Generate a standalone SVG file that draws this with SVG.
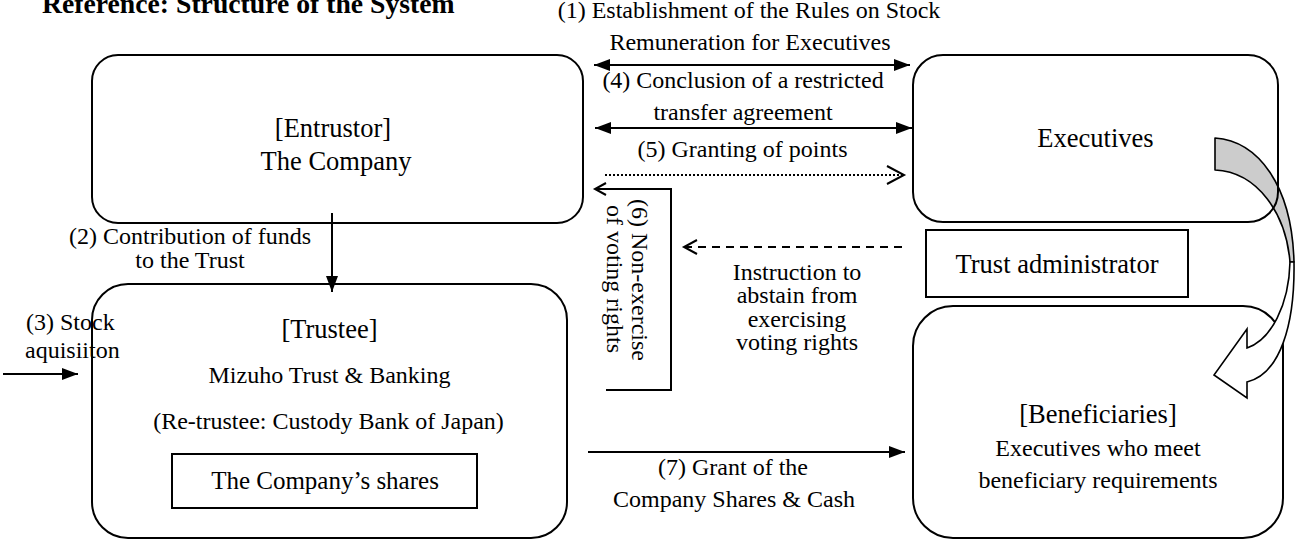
<svg xmlns="http://www.w3.org/2000/svg" width="1295" height="552" viewBox="0 0 1295 552">
<style>
text{font-family:"Liberation Serif","Times New Roman",serif;fill:#000}
.t{font-size:24px}
.h{font-size:26.5px}
.m{text-anchor:middle}
.box{fill:none;stroke:#000;stroke-width:2}
.ln{fill:none;stroke:#000;stroke-width:2}
.open{fill:none;stroke:#000;stroke-width:2}
</style>
<defs>
<marker id="tri" viewBox="0 0 16 12" refX="16" refY="6" markerWidth="16" markerHeight="12" markerUnits="userSpaceOnUse" orient="auto-start-reverse"><path d="M0,0 L16,6 L0,12 Z" fill="#000"/></marker>
</defs>
<rect width="1295" height="552" fill="#fff"/>
<text x="42" y="13" style="font-size:27.7px;font-weight:bold">Reference: Structure of the System</text>

<g id="connectors-back">
<path d="M1215,138 C1258,141 1292,185 1294,262 L1290,262 C1286,214 1258,172 1215,170 Z" fill="#cccccc" stroke="#000" stroke-width="1.6" stroke-linejoin="round"/>
</g>

<g id="entrustor">
<rect class="box" x="92" y="55" width="491" height="168" rx="26"/>
<text class="h m" x="333" y="137">[Entrustor]</text>
<text class="h m" x="336" y="170">The Company</text>
</g>
<g id="trustee">
<rect class="box" x="92" y="284" width="475" height="254" rx="36"/>
<text class="h m" x="329.5" y="338">[Trustee]</text>
<text class="t m" x="329.5" y="383">Mizuho Trust &amp; Banking</text>
<text class="t m" x="328.5" y="429">(Re-trustee: Custody Bank of Japan)</text>
</g>
<g id="shares">
<rect class="box" x="172" y="454" width="305" height="54"/>
<text class="t m" x="325" y="489" style="font-size:25px">The Company’s shares</text>
</g>
<g id="executives">
<rect class="box" x="913" y="55" width="365" height="167" rx="30"/>
<text class="h m" x="1095.5" y="147">Executives</text>
</g>
<g id="trust-administrator">
<rect class="box" x="926" y="230" width="262" height="67"/>
<text class="h m" x="1057" y="273">Trust administrator</text>
</g>
<g id="beneficiaries">
<rect class="box" x="913" y="306" width="370" height="232" rx="40"/>
<text class="h m" x="1098" y="423">[Beneficiaries]</text>
<text class="t m" x="1098" y="456">Executives who meet</text>
<text class="t m" x="1098" y="488">beneficiary requirements</text>
</g>

<g id="connectors">
<!-- (1) -->
<line class="ln" x1="594" y1="65" x2="910" y2="65" marker-start="url(#tri)" marker-end="url(#tri)"/>
<text class="t m" x="749" y="18">(1) Establishment of the Rules on Stock</text>
<text class="t m" x="750" y="50">Remuneration for Executives</text>
<!-- (4) -->
<line class="ln" x1="595" y1="128" x2="912" y2="128" marker-start="url(#tri)" marker-end="url(#tri)"/>
<text class="t m" x="743" y="88">(4) Conclusion of a restricted</text>
<text class="t m" x="743" y="120">transfer agreement</text>
<!-- (5) -->
<line x1="605" y1="175" x2="903" y2="175" stroke="#000" stroke-width="2" stroke-dasharray="2 2"/>
<path class="open" d="M887,166 L904,175 L887,184"/>
<text class="t m" x="742.5" y="157">(5) Granting of points</text>
<!-- (6) -->
<path class="ln" d="M606,390 L671,390 L671,189 L596,189"/>
<path class="open" d="M606,183 L595,189 L606,195"/>
<text class="t m" transform="translate(632,280) rotate(90)">(6) Non-exercise</text>
<text class="t m" transform="translate(607,279) rotate(90)">of voting rights</text>
<!-- instruction -->
<line x1="902" y1="247" x2="685" y2="247" stroke="#000" stroke-width="2" stroke-dasharray="8 6"/>
<path class="open" d="M697,240 L684,247 L697,254"/>
<text class="t m" x="797" y="280">Instruction to</text>
<text class="t m" x="797" y="303">abstain from</text>
<text class="t m" x="797" y="327">exercising</text>
<text class="t m" x="797" y="350">voting rights</text>
<!-- (2) -->
<line class="ln" x1="332" y1="213" x2="332" y2="292" marker-end="url(#tri)"/>
<text class="t m" x="190" y="244">(2) Contribution of funds</text>
<text class="t m" x="190" y="268">to the Trust</text>
<!-- (3) -->
<line class="ln" x1="3" y1="374" x2="78" y2="374" marker-end="url(#tri)"/>
<text class="t" x="26" y="330">(3) Stock</text>
<text class="t" x="25" y="358">aquisiiton</text>
<!-- (7) -->
<line class="ln" x1="588" y1="452" x2="905" y2="452" marker-end="url(#tri)"/>
<text class="t m" x="733" y="475">(7) Grant of the</text>
<text class="t m" x="734" y="507">Company Shares &amp; Cash</text>
<!-- curved arrow front -->
<path d="M1290,262 C1289,305 1271,340 1247,348 L1247,329 L1214,375 L1247,398 L1247,382 C1280,374 1295,325 1294,262 Z" fill="#fff" stroke="#000" stroke-width="1.6" stroke-linejoin="miter"/>
</g>
</svg>
